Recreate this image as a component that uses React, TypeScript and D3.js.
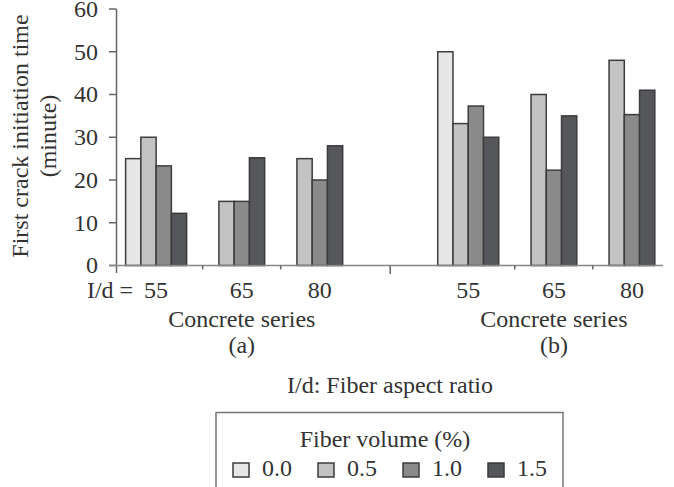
import React from "react";
import * as d3 from "d3";

const W = 674;
const H = 487;

// slots along the x axis: panel (a), an empty slot, panel (b)
const slots = ["a55", "a65", "a80", "gap", "b55", "b65", "b80"];
const slotLabels = ["55", "65", "80", "", "55", "65", "80"];
const fiberVolumes = ["0.0", "0.5", "1.0", "1.5"];

// first crack initiation time (minute), one row per slot, null = no bar
const vol00 = [25, null, null, null, 50, null, null];
const vol05 = [30, 15, 25, null, 33.2, 40, 48];
const vol10 = [23.3, 15, 20, null, 37.3, 22.3, 35.3];
const vol15 = [12.2, 25.2, 28, null, 30, 35, 41];
const series = [vol00, vol05, vol10, vol15];

const yTicks = [0, 10, 20, 30, 40, 50, 60];
const fills = ["#e7e7e7", "#c3c3c3", "#8a8a8a", "#56575a"];

const FONT = "'Liberation Serif', 'Times New Roman', serif";
const TXT = "#333";
const FS = 24;

const App = () => {
  const x = d3
    .scaleBand()
    .domain(slots)
    .range([116, 663])
    .paddingInner(0.218)
    .paddingOuter(0.114)
    .align(0.54);

  const xInner = d3
    .scaleBand()
    .domain(fiberVolumes)
    .range([0, x.bandwidth()]);

  const y = d3.scaleLinear().domain([0, 60]).range([265.5, 9]);

  const bars: any[] = [];
  series.forEach((vals, si) => {
    vals.forEach((v, i) => {
      if (v == null) return;
      bars.push({ slot: slots[i], vol: fiberVolumes[si], v, si });
    });
  });

  // label sits at the center of the bars actually drawn in a slot
  const labelX = (slot: string) => {
    const b = bars.filter((d) => d.slot === slot);
    return d3.mean(b, (d: any) => (x(slot) as number) + (xInner(d.vol) as number) + xInner.bandwidth() / 2) as number;
  };

  const shortTicks = ["a65", "a80", "b65", "b80"].map((s) => (x(s) as number) - 1);
  const midTick = (x("gap") as number) + x.bandwidth() / 2;

  const legendX = d3.scalePoint().domain(fiberVolumes).range([233, 488]);

  return (
    <svg
      width={W}
      height={H}
      style={{ position: "absolute", left: 0, top: 0, background: "#fff" }}
      fontFamily={FONT}
    >
      {/* bars */}
      <g stroke="#3c3c3c" strokeWidth={1.5}>
        {bars.map((d, i) => (
          <rect
            key={i}
            x={(x(d.slot) as number) + (xInner(d.vol) as number)}
            y={y(d.v)}
            width={xInner.bandwidth()}
            height={y(0) - y(d.v)}
            fill={fills[d.si]}
          />
        ))}
      </g>

      {/* axes */}
      <g stroke="#666" strokeWidth={1.5}>
        <line x1={116.5} x2={116.5} y1={y(60)} y2={273} />
        {yTicks.map((t) => (
          <line key={t} x1={109} x2={116.5} y1={y(t)} y2={y(t)} />
        ))}
        <line x1={109} x2={663} y1={y(0)} y2={y(0)} stroke="#888" />
        {shortTicks.map((t, i) => (
          <line key={i} x1={t} x2={t} y1={y(0)} y2={269.5} />
        ))}
        <line x1={midTick} x2={midTick} y1={y(0)} y2={274} />
      </g>
      <g fontSize={FS} fill={TXT} textAnchor="end">
        {yTicks.map((t) => (
          <text key={t} x={98} y={y(t)} dy="0.33em">
            {t}
          </text>
        ))}
      </g>

      {/* y title */}
      <g fontSize={FS} fill={TXT} textAnchor="middle">
        <text transform="translate(28,136) rotate(-90)">First crack initiation time</text>
        <text transform="translate(56,136) rotate(-90)">(minute)</text>
      </g>

      {/* x labels */}
      <g fontSize={FS} fill={TXT} textAnchor="middle">
        <text x={110} y={298}>I/d =</text>
        {slots.map((s, i) =>
          slotLabels[i] ? (
            <text key={s} x={labelX(s)} y={298}>
              {slotLabels[i]}
            </text>
          ) : null
        )}
        <text x={labelX("a65")} y={327}>Concrete series</text>
        <text x={labelX("a65")} y={353}>(a)</text>
        <text x={labelX("b65")} y={327}>Concrete series</text>
        <text x={labelX("b65")} y={353}>(b)</text>
        <text x={390} y={393}>I/d: Fiber aspect ratio</text>
      </g>

      {/* legend */}
      <rect x={216} y={412.5} width={347} height={100} fill="#fff" stroke="#777" strokeWidth={1.5} />
      <text x={385} y={447} fontSize={FS} fill={TXT} textAnchor="middle">
        Fiber volume (%)
      </text>
      {fiberVolumes.map((v, i) => (
        <g key={v} transform={`translate(${legendX(v)},0)`}>
          <rect x={0} y={463} width={16} height={14} fill={fills[i]} stroke="#3c3c3c" strokeWidth={1.5} />
          <text x={29} y={476} fontSize={FS} fill={TXT}>
            {v}
          </text>
        </g>
      ))}
    </svg>
  );
};

export default App;
